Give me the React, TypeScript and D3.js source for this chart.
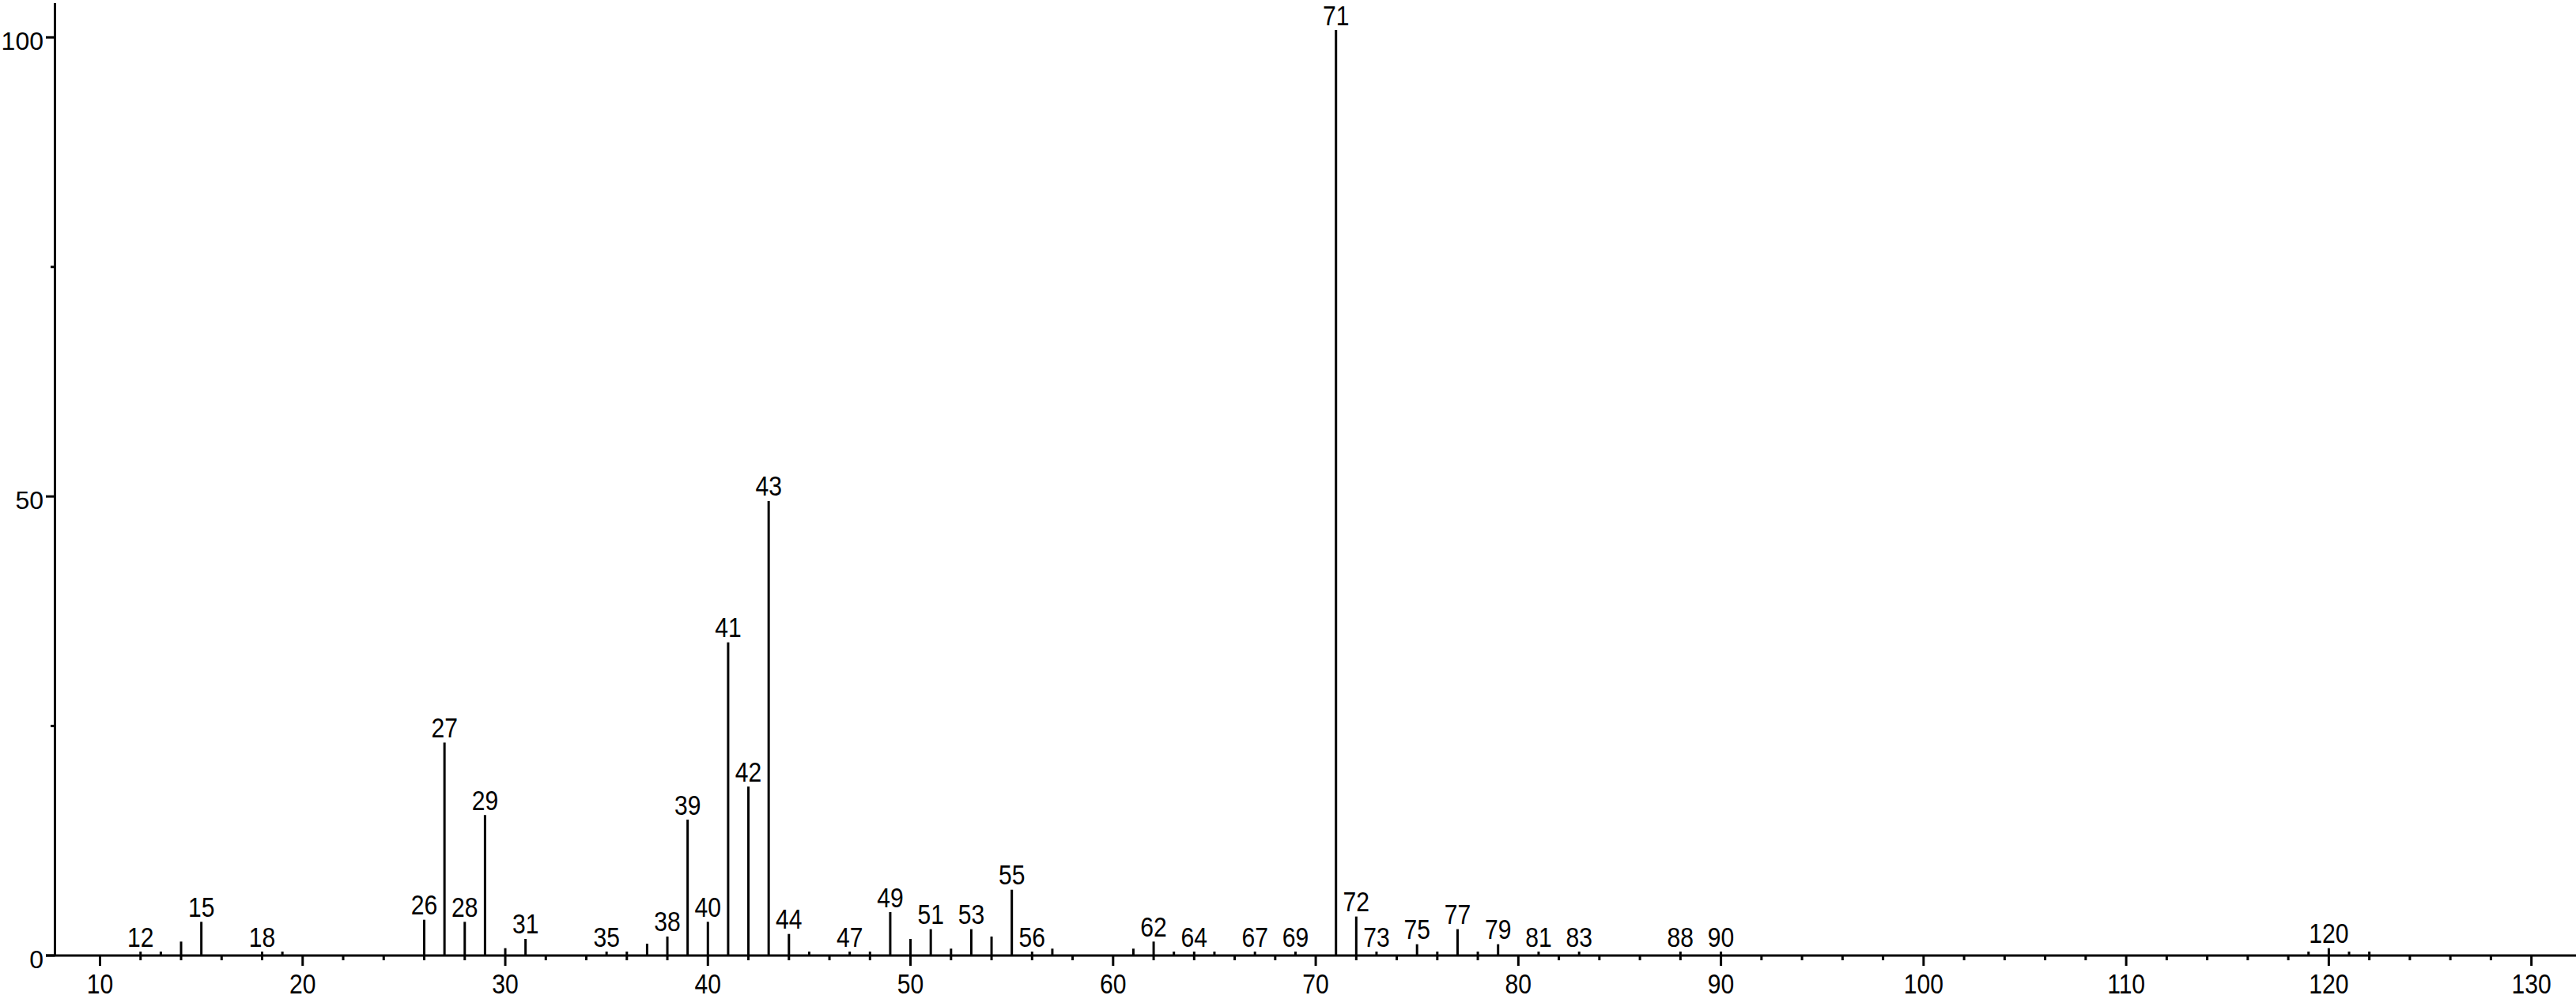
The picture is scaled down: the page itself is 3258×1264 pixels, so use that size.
import React from "react";
import * as d3 from "d3";

const masses = [12, 13, 14, 15, 18, 19, 26, 27, 28, 29, 30, 31, 35, 36, 37, 38, 39, 40, 41, 42, 43, 44, 45, 47, 48, 49, 50, 51, 52, 53, 54, 55, 56, 57, 61, 62, 63, 64, 65, 67, 69, 71, 72, 73, 75, 76, 77, 78, 79, 81, 83, 88, 90, 119, 120, 121, 122];
const intensities = [0.43, 0.43, 1.52, 3.67, 0.43, 0.43, 3.9, 23.2, 3.67, 15.3, 0.8, 1.81, 0.43, 0.43, 1.29, 2.07, 14.8, 3.67, 34.1, 18.4, 49.5, 2.35, 0.43, 0.43, 0.43, 4.73, 1.81, 2.87, 0.75, 2.87, 2.07, 7.17, 0.43, 0.75, 0.75, 1.52, 0.43, 0.43, 0.43, 0.43, 0.43, 100.8, 4.25, 0.43, 1.23, 0.43, 2.87, 0.43, 1.23, 0.43, 0.43, 0.43, 0.43, 0.43, 0.8, 0.43, 0.43];
const labeledMasses = [12, 15, 18, 26, 27, 28, 29, 31, 35, 38, 39, 40, 41, 42, 43, 44, 47, 49, 51, 53, 55, 56, 62, 64, 67, 69, 71, 72, 73, 75, 77, 79, 81, 83, 88, 90, 120];
const xMajorTicks = [10, 20, 30, 40, 50, 60, 70, 80, 90, 100, 110, 120, 130];
const xMinorTicks = d3.range(12, 131, 2).filter((t) => t % 10 !== 0);
const yMajorTicks = [0, 50, 100];
const yMinorTicks = [25, 75];

const W = 3258;
const H = 1264;
const FONT = "'Liberation Sans', Arial, Helvetica, sans-serif";

export default function App() {
  const x = d3.scaleLinear().domain([7.775, 132.2]).range([69.5, 3258]);
  const y = d3.scaleLinear().domain([0, 100]).range([1209, 47.3]);
  const y0 = y(0);
  const axisX = x(7.775);
  const peaks = masses.map((m, i) => ({ m, v: intensities[i] }));
  const labelSet = new Set(labeledMasses);

  return (
    <svg
      width={W}
      height={H}
      style={{ position: "absolute", left: 0, top: 0, background: "#fff", display: "block" }}
      fontFamily={FONT}
    >
      <rect x={0} y={0} width={W} height={H} fill="#fff" />
      {/* peaks */}
      {peaks.map((p) => (
        <line key={"p" + p.m} x1={x(p.m)} x2={x(p.m)} y1={y0} y2={y(p.v)} stroke="#000" strokeWidth={3} />
      ))}
      {/* peak labels */}
      {peaks
        .filter((p) => labelSet.has(p.m))
        .map((p) => (
          <text
            key={"l" + p.m}
            transform={`translate(${x(p.m)},${y(p.v) - 6.5}) scale(0.86,1)`}
            textAnchor="middle"
            fontSize={35}
            fill="#000"
          >
            {p.m}
          </text>
        ))}
      {/* x axis */}
      <line x1={58} x2={W} y1={y0} y2={y0} stroke="#000" strokeWidth={3} />
      {xMajorTicks.map((t) => (
        <g key={"xt" + t}>
          <line x1={x(t)} x2={x(t)} y1={y0} y2={y0 + 13} stroke="#000" strokeWidth={3} />
          <text
            transform={`translate(${x(t)},${y0 + 47.5}) scale(0.86,1)`}
            textAnchor="middle"
            fontSize={35}
            fill="#000"
          >
            {t}
          </text>
        </g>
      ))}
      {xMinorTicks.map((t) => (
        <line key={"xm" + t} x1={x(t)} x2={x(t)} y1={y0} y2={y0 + 6} stroke="#000" strokeWidth={3} />
      ))}
      {/* y axis */}
      <line x1={axisX} x2={axisX} y1={4} y2={y0} stroke="#000" strokeWidth={3} />
      {yMajorTicks.map((t) => (
        <g key={"yt" + t}>
          <line x1={58} x2={axisX} y1={y(t)} y2={y(t)} stroke="#000" strokeWidth={3} />
          <text x={55} y={y(t) + 16} textAnchor="end" fontSize={32} fill="#000">
            {t}
          </text>
        </g>
      ))}
      {yMinorTicks.map((t) => (
        <line key={"ym" + t} x1={64} x2={axisX} y1={y(t)} y2={y(t)} stroke="#000" strokeWidth={3} />
      ))}
    </svg>
  );
}
